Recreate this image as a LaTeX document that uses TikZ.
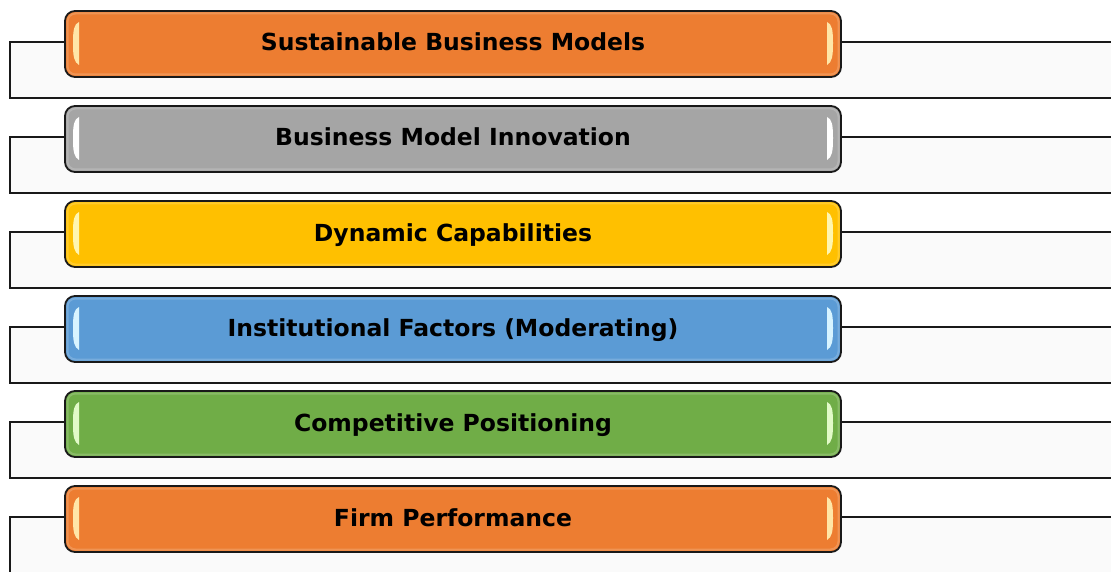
\documentclass[tikz,border=0pt]{standalone}
\usepackage{fontspec}
\setmainfont{DejaVu Sans}
\begin{document}
\begin{tikzpicture}[x=1pt,y=-1pt,
  barbox/.style={draw=black!90, line width=1.8pt, rounded corners=10pt},
  backbox/.style={draw=black!90, line width=1.6pt, fill=black!2},
  lbl/.style={font=\fontsize{23.5}{26}\selectfont\bfseries, text=black, anchor=base, inner sep=0pt}]
\useasboundingbox (0,0) rectangle (1111,572);
\clip (0,0) rectangle (1111,572);
\definecolor{cOrange}{HTML}{ED7D31}
\definecolor{cGray}{HTML}{A5A5A5}
\definecolor{cGold}{HTML}{FFC000}
\definecolor{cBlue}{HTML}{5B9BD5}
\definecolor{cGreen}{HTML}{70AD47}
\definecolor{hOrange}{HTML}{FFE6A8}
\definecolor{hGray}{HTML}{FFFFFF}
\definecolor{hGold}{HTML}{FFF6B0}
\definecolor{hBlue}{HTML}{D8F4FF}
\definecolor{hGreen}{HTML}{E2FAC8}
% one row: #1 index, #2 fill, #3 highlight, #4 text
\newcommand{\modelrow}[4]{%
  \pgfmathsetmacro{\yo}{95*(#1-1)}
  \begin{scope}[yshift=-\yo pt]
    % long back panel
    \draw[backbox] (1130,42) -- (10,42) -- (10,98) -- (1130,98);
    \node[inner sep=0pt, minimum width=1pt] (back#1) at (560,70) {};
    % coloured bar
    \path[barbox, fill=#2] (65,11) rectangle (841,77);
    \draw[#2!75!white, line width=2pt, rounded corners=8pt, opacity=0.7] (67.5,13.5) rectangle (838.5,74.5);
    \fill[#2] (70,17) rectangle (836,71);
    % glossy end strips
    \fill[#3] (79,22) .. controls (74,24) and (73,30) .. (73,43) .. controls (73,57) and (74,62) .. (79,65) -- (79,22) -- cycle;
    \fill[#3] (827,22) .. controls (832,24) and (833,30) .. (833,43) .. controls (833,57) and (832,62) .. (827,65) -- (827,22) -- cycle;
    \node[lbl] (bar#1) at (453,51) {#4};
  \end{scope}}
\modelrow{1}{cOrange}{hOrange}{Sustainable Business Models}
\modelrow{2}{cGray}{hGray}{Business Model Innovation}
\modelrow{3}{cGold}{hGold}{Dynamic Capabilities}
\modelrow{4}{cBlue}{hBlue}{Institutional Factors (Moderating)}
\modelrow{5}{cGreen}{hGreen}{Competitive Positioning}
\modelrow{6}{cOrange}{hOrange}{Firm Performance}
\end{tikzpicture}
\end{document}
